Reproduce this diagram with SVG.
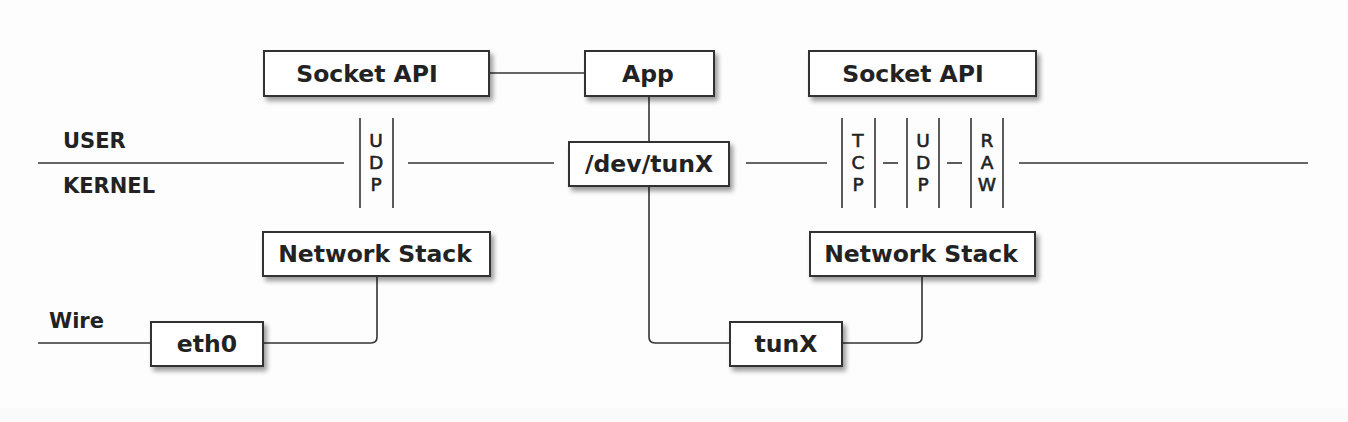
<svg xmlns="http://www.w3.org/2000/svg" width="1348" height="422" viewBox="0 0 1348 422">
<defs>
<filter id="sh" x="-10%" y="-20%" width="130%" height="160%">
<feGaussianBlur in="SourceAlpha" stdDeviation="2.5"/>
<feOffset dx="3" dy="4" result="b"/>
<feComponentTransfer><feFuncA type="linear" slope="0.4"/></feComponentTransfer>
<feMerge><feMergeNode/><feMergeNode in="SourceGraphic"/></feMerge>
</filter>
<style>
.box{fill:#fff;stroke:#333;stroke-width:2}
.lbl{font-family:"DejaVu Sans",sans-serif;font-weight:bold;font-size:23.5px;fill:#222;text-anchor:middle}
.side{font-family:"DejaVu Sans",sans-serif;font-weight:bold;font-size:21px;fill:#222}
.vert{font-family:"DejaVu Sans",sans-serif;font-size:18.5px;fill:#222;stroke:#222;stroke-width:0.6;text-anchor:middle}
.ln{fill:none;stroke:#333;stroke-width:1.6}
</style>
</defs>
<rect width="1348" height="422" fill="#fdfdfd"/>
<rect y="408" width="1348" height="14" fill="#fafafa"/>
<g id="connectors">
<path class="ln" d="M489 73H585"/>
<path class="ln" d="M649 96V142"/>
<path class="ln" d="M38 163H344"/>
<path class="ln" d="M408 163H554"/>
<path class="ln" d="M746 163H827"/>
<path class="ln" d="M1019 163H1308"/>
<path class="ln" d="M883 163H898"/>
<path class="ln" d="M947 163H962"/>
<path class="ln" d="M38 343H151"/>
<path class="ln" d="M263 343H371Q377 343 377 337V276"/>
<path class="ln" d="M649 186V337Q649 343 655 343H730"/>
<path class="ln" d="M842 343H916Q922 343 922 337V276"/>
</g>
<g id="labels">
<text class="side" x="63" y="148">USER</text>
<text class="side" x="63" y="193">KERNEL</text>
<text class="side" x="49" y="328">Wire</text>
</g>
<g id="udp-left">
<path class="ln" d="M360 118V208M393 118V208"/>
<text class="vert" x="376" y="147">U</text>
<text class="vert" x="376" y="169">D</text>
<text class="vert" x="376" y="191">P</text>
</g>
<g id="tcp">
<path class="ln" d="M842 118V208M875 118V208"/>
<text class="vert" x="858" y="147">T</text>
<text class="vert" x="858" y="169">C</text>
<text class="vert" x="858" y="191">P</text>
</g>
<g id="udp-right">
<path class="ln" d="M907 118V208M939 118V208"/>
<text class="vert" x="923" y="147">U</text>
<text class="vert" x="923" y="169">D</text>
<text class="vert" x="923" y="191">P</text>
</g>
<g id="raw">
<path class="ln" d="M971 118V208M1003 118V208"/>
<text class="vert" x="987" y="147">R</text>
<text class="vert" x="987" y="169">A</text>
<text class="vert" x="987" y="191">W</text>
</g>
<g id="socket-api-left">
<rect class="box" x="264" y="51" width="225" height="45" filter="url(#sh)"/>
<text class="lbl" x="367" y="82">Socket API</text>
</g>
<g id="app">
<rect class="box" x="585" y="51" width="129" height="45" filter="url(#sh)"/>
<text class="lbl" x="648" y="82">App</text>
</g>
<g id="dev-tunx">
<rect class="box" x="569" y="142" width="160" height="44" filter="url(#sh)"/>
<text class="lbl" x="649" y="172">/dev/tunX</text>
</g>
<g id="socket-api-right">
<rect class="box" x="809" y="51" width="227" height="45" filter="url(#sh)"/>
<text class="lbl" x="913" y="82">Socket API</text>
</g>
<g id="netstack-left">
<rect class="box" x="263" y="232" width="227" height="44" filter="url(#sh)"/>
<text class="lbl" x="375" y="262">Network Stack</text>
</g>
<g id="netstack-right">
<rect class="box" x="810" y="232" width="225" height="44" filter="url(#sh)"/>
<text class="lbl" x="921" y="262">Network Stack</text>
</g>
<g id="eth0">
<rect class="box" x="151" y="322" width="112" height="44" filter="url(#sh)"/>
<text class="lbl" x="207" y="352">eth0</text>
</g>
<g id="tunx">
<rect class="box" x="730" y="322" width="112" height="44" filter="url(#sh)"/>
<text class="lbl" x="786" y="352">tunX</text>
</g>
</svg>
